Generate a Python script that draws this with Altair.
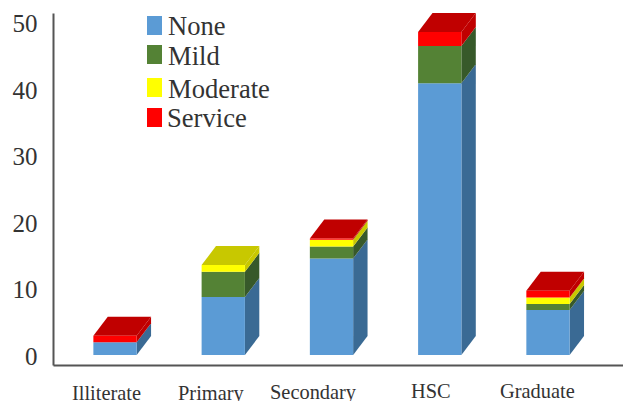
import altair as alt
import pandas as pd

categories = ["Illiterate", "Primary", "Secondary", "HSC", "Graduate"]
series = ["None", "Mild", "Moderate", "Service"]
none_values = [1.9, 8.7, 14.5, 40.8, 6.75]
mild_values = [0.0, 3.8, 1.8, 5.6, 0.9]
moderate_values = [0.0, 1.0, 1.0, 0.0, 1.0]
service_values = [1.0, 0.0, 0.2, 2.1, 1.0]
y_ticks = [0, 10, 20, 30, 40, 50]

front_colors = ["#5B9BD5", "#548235", "#FFFF00", "#FF0000"]
side_colors = ["#3A6A94", "#37592A", "#C8C800", "#C00000"]

FONT = "Liberation Serif"
TEXT_COLOR = "#333333"

# Half the bar's width and the oblique depth of the box, in scale units.
HALF_W = 0.2
DEPTH_X = 0.133
DEPTH_Y = 2.85

x_scale = alt.Scale(domain=[-0.573, 4.693], nice=False, zero=False)
y_scale = alt.Scale(domain=[-1.5, 51.35], nice=False, zero=False)

fronts, faces = [], []
columns = [none_values, mild_values, moderate_values, service_values]
for i, cat in enumerate(categories):
    left, right = i - HALF_W, i + HALF_W
    base = 0.0
    top_color = None
    for s, values in enumerate(columns):
        v = values[i]
        if v <= 0:
            continue
        top = base + v
        fronts.append(dict(x=left, x2=right, y=base, y2=top, color=front_colors[s]))
        # right-hand side of this segment, sheared back
        face = f"{cat}-{s}"
        faces.append(dict(face=face, x=right, y=base, y2=top, color=side_colors[s]))
        faces.append(dict(face=face, x=right + DEPTH_X, y=base + DEPTH_Y,
                          y2=top + DEPTH_Y, color=side_colors[s]))
        base = top
        top_color = side_colors[s]
    # roof of the box
    face = f"{cat}-top"
    hi = base + DEPTH_Y
    for px, a, b in [(left, base, base), (left + DEPTH_X, base, hi),
                     (right, base, hi), (right + DEPTH_X, hi, hi)]:
        faces.append(dict(face=face, x=px, y=a, y2=b, color=top_color))

front_df = pd.DataFrame(fronts)
face_df = pd.DataFrame(faces)

axes = alt.Chart(pd.DataFrame({"x": [0.0], "y": [0.0]})).mark_point(opacity=0).encode(
    x=alt.X("x:Q", scale=x_scale, axis=alt.Axis(
        values=[], title=None, grid=False, domainColor="#555555", domainWidth=2, ticks=False, labels=False)),
    y=alt.Y("y:Q", scale=y_scale, axis=alt.Axis(
        values=y_ticks, title=None, grid=False, domainColor="#555555", domainWidth=2, ticks=False,
        labelFont=FONT, labelFontSize=25, labelColor=TEXT_COLOR, labelPadding=16, labelOffset=1.5)),
)

side_layer = alt.Chart(face_df).mark_area(orient="vertical", strokeWidth=0).encode(
    x=alt.X("x:Q", scale=x_scale),
    y=alt.Y("y:Q", scale=y_scale),
    y2="y2:Q",
    detail="face:N",
    color=alt.Color("color:N", scale=None),
)

front_layer = alt.Chart(front_df).mark_rect().encode(
    x=alt.X("x:Q", scale=x_scale),
    x2="x2:Q",
    y=alt.Y("y:Q", scale=y_scale),
    y2="y2:Q",
    color=alt.Color("color:N", scale=None),
)

layers = [axes, side_layer, front_layer]

# Hand-placed key; the rows are not evenly spaced.
ORIGIN_X, ORIGIN_Y = 53, 13
key_tops = [16, 45, 78, 108]
key_baselines = [35, 65, 98, 127]
key_text_x = [168, 168, 168, 167]
one = pd.DataFrame({"k": [0]})
for s, name in enumerate(series):
    layers.append(alt.Chart(one).mark_rect(color=front_colors[s]).encode(
        x=alt.value(147 - ORIGIN_X), x2=alt.value(162 - ORIGIN_X),
        y=alt.value(key_tops[s] - ORIGIN_Y), y2=alt.value(key_tops[s] + 19 - ORIGIN_Y)))
    layers.append(alt.Chart(one).mark_text(
        text=name, font=FONT, fontSize=26.6, color=TEXT_COLOR, align="left", baseline="alphabetic"
    ).encode(x=alt.value(key_text_x[s] - ORIGIN_X), y=alt.value(key_baselines[s] - ORIGIN_Y)))

# Category names sit at slightly uneven offsets below the axis.
label_left = [72, 178, 270, 411, 500]
label_baseline = [400, 400, 399, 398, 398]
for name, lx, ly in zip(categories, label_left, label_baseline):
    layers.append(alt.Chart(one).mark_text(
        text=name, font=FONT, fontSize=20.4, color=TEXT_COLOR, align="left", baseline="alphabetic"
    ).encode(x=alt.value(lx - ORIGIN_X), y=alt.value(ly - ORIGIN_Y)))

chart = alt.layer(*layers).properties(
    width=570, height=352, background="white",
    padding={"left": 53, "top": 13, "right": 0, "bottom": 36},
    autosize=alt.AutoSizeParams(type="none"),
).configure_view(stroke=None)

chart.save("out.html", embed_options={"renderer": "svg", "actions": False})
